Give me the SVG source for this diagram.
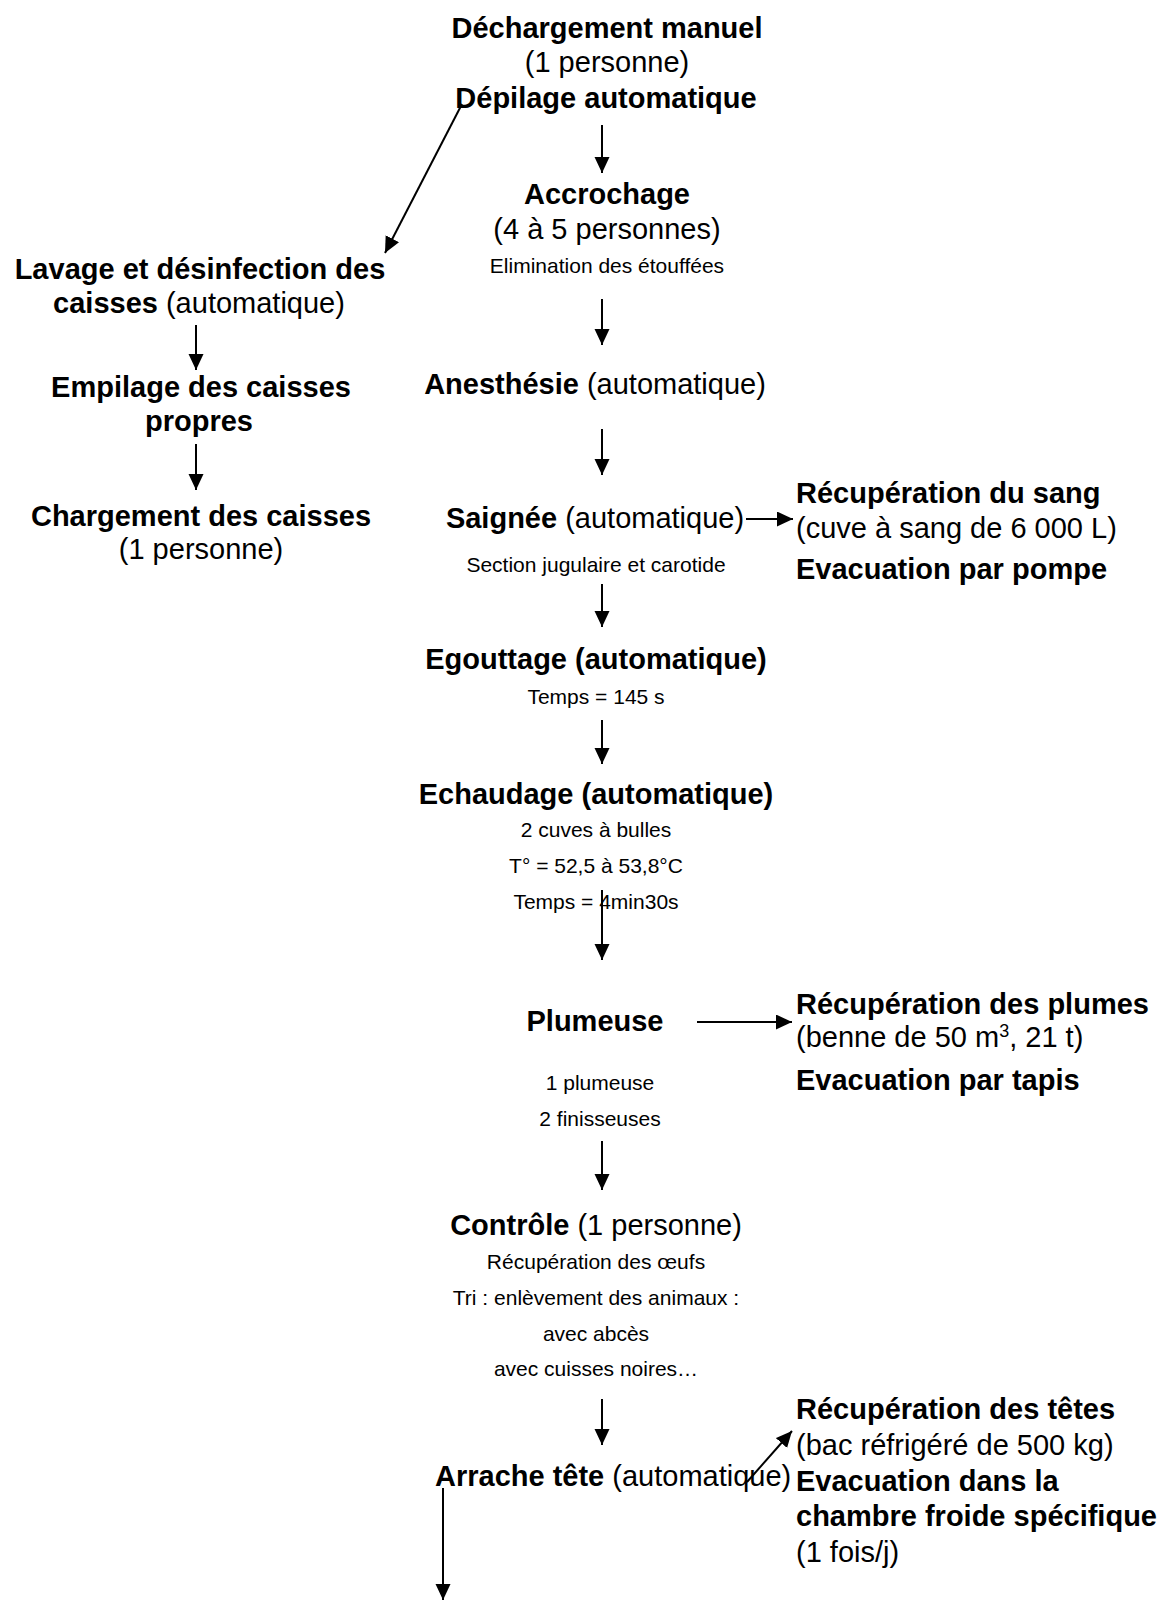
<svg xmlns="http://www.w3.org/2000/svg" width="1165" height="1601" viewBox="0 0 1165 1601">
<style>
text{font-family:"Liberation Sans",Arial,sans-serif;fill:#000}
.L{font-size:29px}
.S{font-size:21px}
.b{font-weight:bold}
.c{text-anchor:middle}
.conn line{stroke:#000;stroke-width:2;fill:none}
</style>
<defs>
<marker id="ah" markerUnits="userSpaceOnUse" markerWidth="17" markerHeight="16" refX="16" refY="7.5" orient="auto">
<path d="M0,0 L16,7.5 L0,15 z" fill="#000"/>
</marker>
</defs>
<rect width="1165" height="1601" fill="#fff"/>
<g id="n-dechargement">
<text class="L b c" x="607" y="38">Déchargement manuel</text>
<text class="L c" x="607" y="72">(1 personne)</text>
<text class="L b c" x="606" y="108">Dépilage automatique</text>
</g>
<g id="n-accrochage">
<text class="L b c" x="607" y="204">Accrochage</text>
<text class="L c" x="607" y="239">(4 à 5 personnes)</text>
<text class="S c" x="607" y="273">Elimination des étouffées</text>
</g>
<g id="n-anesthesie">
<text class="L c" x="595" y="394"><tspan class="b">Anesthésie</tspan> (automatique)</text>
</g>
<g id="n-saignee">
<text class="L c" x="595" y="528"><tspan class="b">Saignée</tspan> (automatique)</text>
<text class="S c" x="596" y="572">Section jugulaire et carotide</text>
</g>
<g id="n-sang">
<text class="L b" x="796" y="503">Récupération du sang</text>
<text class="L" x="796" y="538">(cuve à sang de 6 000 L)</text>
<text class="L b" x="796" y="579">Evacuation par pompe</text>
</g>
<g id="n-egouttage">
<text class="L b c" x="596" y="669">Egouttage (automatique)</text>
<text class="S c" x="596" y="704">Temps = 145 s</text>
</g>
<g id="n-echaudage">
<text class="L b c" x="596" y="804">Echaudage (automatique)</text>
<text class="S c" x="596" y="837">2 cuves à bulles</text>
<text class="S c" x="596" y="873">T° = 52,5 à 53,8°C</text>
<text class="S c" x="596" y="909">Temps = 4min30s</text>
</g>
<g id="n-plumeuse">
<text class="L b c" x="595" y="1031">Plumeuse</text>
<text class="S c" x="600" y="1090">1 plumeuse</text>
<text class="S c" x="600" y="1126">2 finisseuses</text>
</g>
<g id="n-plumes">
<text class="L b" x="796" y="1014">Récupération des plumes</text>
<text class="L" x="796" y="1047">(benne de 50 m<tspan dy="-10" font-size="18">3</tspan><tspan dy="10">, 21 t)</tspan></text>
<text class="L b" x="796" y="1090">Evacuation par tapis</text>
</g>
<g id="n-controle">
<text class="L c" x="596" y="1235"><tspan class="b">Contrôle</tspan> (1 personne)</text>
<text class="S c" x="596" y="1269">Récupération des œufs</text>
<text class="S c" x="596" y="1305">Tri : enlèvement des animaux :</text>
<text class="S c" x="596" y="1341">avec abcès</text>
<text class="S c" x="596" y="1376">avec cuisses noires…</text>
</g>
<g id="n-arrache">
<text class="L" x="435" y="1486"><tspan class="b">Arrache tête</tspan> (automatique)</text>
</g>
<g id="n-tetes">
<text class="L b" x="796" y="1419">Récupération des têtes</text>
<text class="L" x="796" y="1455">(bac réfrigéré de 500 kg)</text>
<text class="L b" x="796" y="1491">Evacuation dans la</text>
<text class="L b" x="796" y="1526">chambre froide spécifique</text>
<text class="L" x="796" y="1562">(1 fois/j)</text>
</g>
<g id="n-lavage">
<text class="L b c" x="200" y="279">Lavage et désinfection des</text>
<text class="L c" x="199" y="313"><tspan class="b">caisses</tspan> (automatique)</text>
</g>
<g id="n-empilage">
<text class="L b c" x="201" y="397">Empilage des caisses</text>
<text class="L b c" x="199" y="431">propres</text>
</g>
<g id="n-chargement">
<text class="L b c" x="201" y="526">Chargement des caisses</text>
<text class="L c" x="201" y="559">(1 personne)</text>
</g>
<g id="connectors" class="conn">
<line x1="602" y1="125" x2="602" y2="173" marker-end="url(#ah)"/>
<line x1="602" y1="299" x2="602" y2="345" marker-end="url(#ah)"/>
<line x1="602" y1="429" x2="602" y2="475" marker-end="url(#ah)"/>
<line x1="746" y1="519" x2="793" y2="519" marker-end="url(#ah)"/>
<line x1="602" y1="584" x2="602" y2="627" marker-end="url(#ah)"/>
<line x1="602" y1="720" x2="602" y2="764" marker-end="url(#ah)"/>
<line x1="602" y1="890" x2="602" y2="960" marker-end="url(#ah)"/>
<line x1="697" y1="1022" x2="792" y2="1022" marker-end="url(#ah)"/>
<line x1="602" y1="1141" x2="602" y2="1190" marker-end="url(#ah)"/>
<line x1="602" y1="1399" x2="602" y2="1445" marker-end="url(#ah)"/>
<line x1="747" y1="1482" x2="792" y2="1431" marker-end="url(#ah)"/>
<line x1="443" y1="1488" x2="443" y2="1600" marker-end="url(#ah)"/>
<line x1="462" y1="104" x2="385" y2="253" marker-end="url(#ah)"/>
<line x1="196" y1="325" x2="196" y2="370" marker-end="url(#ah)"/>
<line x1="196" y1="444" x2="196" y2="490" marker-end="url(#ah)"/>
</g>
</svg>
